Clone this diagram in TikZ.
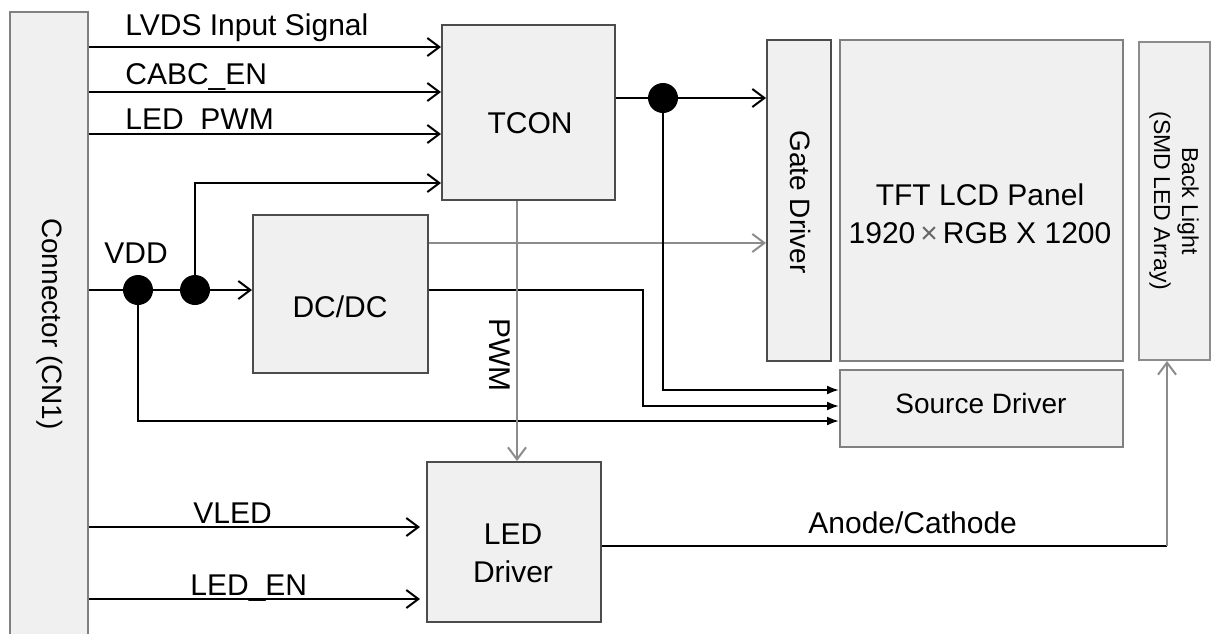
\documentclass[tikz,border=0pt]{standalone}
\usepackage{fontspec}
\setmainfont{Liberation Sans}
\usetikzlibrary{arrows.meta}
\newcommand{\bigtxt}{\fontsize{15}{19}\selectfont}
\newcommand{\midtxt}{\fontsize{14}{18}\selectfont}
\newcommand{\smltxt}{\fontsize{11.5}{14}\selectfont}

\begin{document}
\begin{tikzpicture}[x=0.5pt,y=-0.5pt]
\tikzstyle{blk}=[draw=black!70,fill=black!6,line width=1pt,inner sep=0pt]
\tikzstyle{txt}=[inner sep=0pt,align=center,font=\bigtxt]
\tikzstyle{lbl}=[anchor=base west,inner sep=0pt,font=\bigtxt]
\tikzstyle{dot}=[circle,fill=black,inner sep=0pt,minimum size=15pt]
\tikzstyle{opn}=[line width=1pt,-{Straight Barb[length=6pt,width=9pt]}]
\tikzstyle{fil}=[line width=1pt,-{Latex[length=6pt,width=4.5pt]}]
\tikzstyle{gry}=[draw=black!45]
\useasboundingbox (0,0) rectangle (1215,633);

% blocks
\node[blk,draw=black!50,minimum width=39pt,minimum height=319pt] (conn) at (49,331) {};
\node[blk,minimum width=86.5pt,minimum height=87.5pt] (tcon) at (528.5,112.5) {};
\node[blk,minimum width=87.5pt,minimum height=79pt] (dcdc) at (340.5,294) {};
\node[blk,minimum width=32pt,minimum height=160.5pt] (gate) at (799,200.5) {};
\node[blk,draw=black!50,minimum width=141.5pt,minimum height=160.5pt] (panel) at (981.5,200.5) {};
\node[blk,draw=black!50,minimum width=141.5pt,minimum height=38.5pt] (src) at (981.5,408.5) {};
\node[blk,draw=black!45,minimum width=35.5pt,minimum height=159pt] (bl) at (1174.5,201) {};
\node[blk,minimum width=87pt,minimum height=80pt] (led) at (514,542) {};

% block texts
\node[txt,rotate=-90,font=\midtxt] (connlbl) at (50,324) {Connector (CN1)};
\node[txt] (tconlbl) at (530,123) {TCON};
\node[txt] (dcdclbl) at (340,307) {DC/DC};
\node[txt,rotate=-90,font=\midtxt] (gatelbl) at (800,202) {Gate Driver};
\node[txt] (panellbl) at (980,214) {TFT LCD Panel\\1920\,{\color{black!60}×}\,RGB X 1200};
\node[txt,font=\midtxt] (srclbl) at (981,403) {Source Driver};
\node[txt,rotate=-90,font=\smltxt] (bllbl) at (1174,201) {Back Light\\(SMD LED Array)};
\node[txt] (ledlbl) at (513,553) {LED\\Driver};
\node[txt,rotate=-90] (pwmlbl) at (500,355) {PWM};

% junctions
\node[dot] (j1) at (138,290) {};
\node[dot] (j2) at (195,290) {};
\node[dot] (j3) at (663,98) {};
\coordinate (lvds) at (0,47);
\coordinate (cabc) at (0,92);
\coordinate (lpwm) at (0,134);
\coordinate (vtc) at (0,183);
\coordinate (vgd) at (0,243);
\coordinate (s1) at (0,390);
\coordinate (s2) at (643,406);
\coordinate (s3) at (0,421);
\coordinate (pw) at (517,0);
\coordinate (vled) at (0,527);
\coordinate (len) at (0,599);
\coordinate (an) at (1167,546);

% signals
\draw[opn] (conn.east |- lvds) -- (tcon.west |- lvds);
\draw[opn] (conn.east |- cabc) -- (tcon.west |- cabc);
\draw[opn] (conn.east |- lpwm) -- (tcon.west |- lpwm);
\draw[opn] (j2) |- (tcon.west |- vtc);
\draw[opn] (conn.east |- j1) -- (dcdc.west |- j1);
\draw[fil] (j1) |- (src.west |- s3);
\draw[opn,gry] (dcdc.east |- vgd) -- (gate.west |- vgd);
\draw[fil] (dcdc.east |- j1) -| (s2) -- (src.west |- s2);
\draw[opn] (tcon.east |- j3) -- (gate.west |- j3);
\draw[fil] (j3) |- (src.west |- s1);
\draw[opn,gry] (tcon.south -| pw) -- (led.north -| pw);
\draw[opn] (conn.east |- vled) -- ([xshift=-3pt]led.west |- vled);
\draw[opn] (conn.east |- len) -- ([xshift=-3pt]led.west |- len);
\draw[line width=1pt] (led.east |- an) -- (an);
\draw[opn,gry] (an) -- (bl.south -| an);

% signal names
\node[lbl] (lvdslbl) at (125,35) {LVDS Input Signal};
\node[lbl] (cabclbl) at (125,84) {CABC\_EN};
\node[lbl] (lpwmlbl) at (125,129) {LED\_PWM};
\node[lbl] (vddlbl) at (104,263) {VDD};
\node[lbl] (vledlbl) at (193,523) {VLED};
\node[lbl] (lenlbl) at (190,595) {LED\_EN};
\node[lbl] (anlbl) at (808,533) {Anode/Cathode};
\end{tikzpicture}
\end{document}
